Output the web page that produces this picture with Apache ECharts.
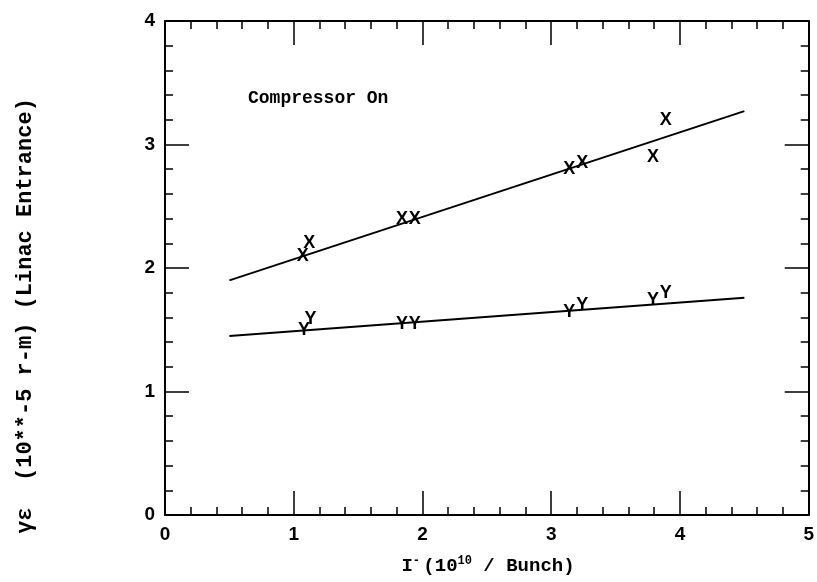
<!DOCTYPE html>
<html>
<head>
<meta charset="utf-8">
<script src="https://cdn.jsdelivr.net/npm/echarts@6/dist/echarts.min.js"></script>
<style>
html, body { margin: 0; padding: 0; background: #fff; }
#chart { width: 817px; height: 582px; }
</style>
</head>
<body>
<div id="chart"></div>
<script>
// X marks (upper series)
var xMarkI = [1.07, 1.12, 1.84, 1.94, 3.14, 3.24, 3.79, 3.89]
var xMarkE = [2.10, 2.20, 2.40, 2.40, 2.80, 2.85, 2.90, 3.20]
// Y marks (lower series)
var yMarkI = [1.08, 1.13, 1.84, 1.94, 3.14, 3.24, 3.79, 3.89]
var yMarkE = [1.50, 1.59, 1.55, 1.55, 1.64, 1.70, 1.74, 1.80]
// fitted lines
var fitI = [0.5, 4.5]
var fitX = [1.90, 3.27]
var fitY = [1.45, 1.76]

var monoFont = '"Liberation Mono", "DejaVu Sans Mono", monospace'

function pairs(a, b) {
	var out = []
	for (var i = 0; i < a.length; i++) out.push([a[i], b[i]])
	return out
}

function axisCommon(showLabel) {
	return {
		min: 0,
		interval: 1,
		axisLine: { show: true, onZero: false, lineStyle: { color: '#000', width: 2 } },
		axisTick: { show: true, inside: true, length: 24, lineStyle: { color: '#000', width: 1.5 } },
		minorTick: { show: true, splitNumber: 5, length: 8, lineStyle: { color: '#000', width: 1.5 } },
		splitLine: { show: false },
		minorSplitLine: { show: false },
		axisLabel: {
			show: showLabel,
			color: '#000',
			fontSize: 19,
			fontWeight: 'bold',
			fontFamily: 'Arial, "Liberation Sans", sans-serif',
			margin: 10
		}
	}
}

function markSeries(data, ch) {
	return {
		type: 'scatter',
		data: data,
		symbol: 'circle',
		symbolSize: 2,
		itemStyle: { color: 'rgba(0,0,0,0)', opacity: 1 },
		label: {
			show: true,
			position: 'inside',
			formatter: ch,
			color: '#000',
			opacity: 1,
			fontSize: 18,
			fontWeight: 'bold',
			fontFamily: 'Arial, "Liberation Sans", sans-serif'
		},
		emphasis: { disabled: true },
		z: 5
	}
}

function fitSeries(ys) {
	return {
		type: 'line',
		data: pairs(fitI, ys),
		symbol: 'none',
		lineStyle: { color: '#000', width: 2 }
	}
}

var xBottom = Object.assign(axisCommon(true), { type: 'value', max: 5, position: 'bottom' })
var xTop = Object.assign(axisCommon(false), { type: 'value', max: 5, position: 'top' })
var yLeft = Object.assign(axisCommon(true), { type: 'value', max: 4, position: 'left' })
var yRight = Object.assign(axisCommon(false), { type: 'value', max: 4, position: 'right' })

var option = {
	backgroundColor: '#fff',
	animation: false,
	grid: { left: 165, right: 7, top: 21, bottom: 67 },
	xAxis: [xBottom, xTop],
	yAxis: [yLeft, yRight],
	series: [
		fitSeries(fitX),
		fitSeries(fitY),
		markSeries(pairs(xMarkI, xMarkE), 'X'),
		markSeries(pairs(yMarkI, yMarkE), 'Y')
	],
	graphic: [
		{
			type: 'text',
			left: 248,
			top: 89,
			style: { text: 'Compressor On', font: 'bold 18px ' + monoFont, fill: '#000' }
		},
		{
			type: 'text',
			x: 488,
			y: 566,
			style: {
				text: '{a|I}{s|-} {a|(10}{s|10}{a| / Bunch)}',
				align: 'center',
				verticalAlign: 'middle',
				rich: {
					a: { font: 'bold 19px ' + monoFont, fill: '#000', color: '#000' },
					s: { font: 'bold 12px ' + monoFont, fill: '#000', color: '#000', padding: [0, 0, 10, 0] }
				}
			}
		},
		{
			type: 'text',
			x: 25,
			y: 316,
			rotation: Math.PI / 2,
			style: {
				text: 'γε  (10**-5 r-m) (Linac Entrance)',
				align: 'center',
				verticalAlign: 'middle',
				font: 'bold 22px ' + monoFont,
				fill: '#000'
			}
		}
	]
}

var chart = echarts.init(document.getElementById('chart'))
chart.setOption(option)
</script>
</body>
</html>
